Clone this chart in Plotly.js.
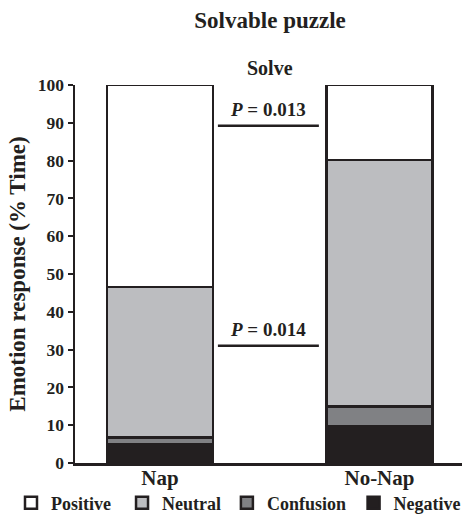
<!DOCTYPE html>
<html>
<head>
<meta charset="utf-8">
<script src="https://cdn.plot.ly/plotly-3.0.1.min.js"></script>
<style>html,body{margin:0;padding:0;background:#fff;}#chart{width:464px;height:521px;}</style>
</head>
<body>
<div id="chart"></div>
<script>
var groups = ['Nap', 'No-Nap'];
var negative = [5.0, 9.8];
var confusion = [1.7, 5.1];
var neutral = [39.9, 65.3];
var positive = [53.4, 19.8];
var seriesNames = ['Negative', 'Confusion', 'Neutral', 'Positive'];
var seriesColors = ['#231f20', '#808184', '#bcbdc0', '#ffffff'];
var pLabels = ['<i>P</i> = 0.013', '<i>P</i> = 0.014'];
var pLevels = [89.2, 31];
var yTicks = [0, 10, 20, 30, 40, 50, 60, 70, 80, 90, 100];

var F = 'Liberation Serif, Times New Roman, serif';
var ink = '#231f20';
var vals = [negative, confusion, neutral, positive];
var legendIds = ['legend4', 'legend3', 'legend2', 'legend'];
var legendX = [0.762, 0.489, 0.263, 0.0237];
var traces = vals.map(function (v, i) {
  return {
    type: 'bar', x: groups, y: v, name: seriesNames[i], legend: legendIds[i],
    marker: { color: seriesColors[i], line: { color: ink, width: 2.5 } },
    width: 0.483
  };
});

var shapes = pLevels.map(function (lv) {
  return { type: 'line', xref: 'x', yref: 'y', x0: 0.264, x1: 0.724, y0: lv, y1: lv,
    line: { color: ink, width: 2.5 } };
});
var annotations = pLevels.map(function (lv, i) {
  return { xref: 'x', yref: 'y', x: 0.494, y: lv, yshift: 4, text: '<b>' + pLabels[i] + '</b>',
    showarrow: false, yanchor: 'bottom', font: { family: F, size: 19, color: ink } };
});
annotations.push({ xref: 'paper', yref: 'paper', x: 0.503, y: 1.0, yshift: 17, text: '<b>Solve</b>',
  showarrow: false, yanchor: 'middle', font: { family: F, size: 20, color: ink } });

var layout = {
  width: 464, height: 521,
  margin: { l: 75, r: 2, t: 85, b: 58 },
  paper_bgcolor: '#fff', plot_bgcolor: '#fff',
  barmode: 'stack', bargap: 0,
  title: { text: '<b>Solvable puzzle</b>', x: 0.582, xanchor: 'center', xref: 'container', y: 0.9616, yanchor: 'middle', yref: 'container',
    font: { family: F, size: 23, color: ink } },
  xaxis: { type: 'category', range: [-0.387, 1.376], showline: true, linecolor: ink, linewidth: 2.5,
    ticks: '', showgrid: false, zeroline: false, ticklabelstandoff: -6,
    tickfont: { family: F, size: 21, color: ink, weight: 'bold' } },
  yaxis: { range: [0, 100], tickvals: yTicks, showline: true, linecolor: ink, linewidth: 2.5,
    ticks: 'outside', ticklen: 5, tickwidth: 2, tickcolor: ink, showgrid: false, zeroline: false,
    tickfont: { family: F, size: 17.5, color: ink, weight: 'bold' },
    title: { text: '<b>Emotion response (% Time)</b>', standoff: 6, font: { family: F, size: 23, color: ink } } },
  showlegend: true,
  shapes: shapes, annotations: annotations
};
legendIds.forEach(function (id, i) {
  layout[id] = { orientation: 'h', x: legendX[i], xanchor: 'left', xref: 'container', y: 0.0345, yanchor: 'middle', yref: 'container',
    font: { family: F, size: 18, color: ink, weight: 'bold' }, itemwidth: 30, bgcolor: 'rgba(0,0,0,0)' };
});
Plotly.newPlot('chart', traces, layout, { displayModeBar: false, staticPlot: true });
</script>
</body>
</html>
